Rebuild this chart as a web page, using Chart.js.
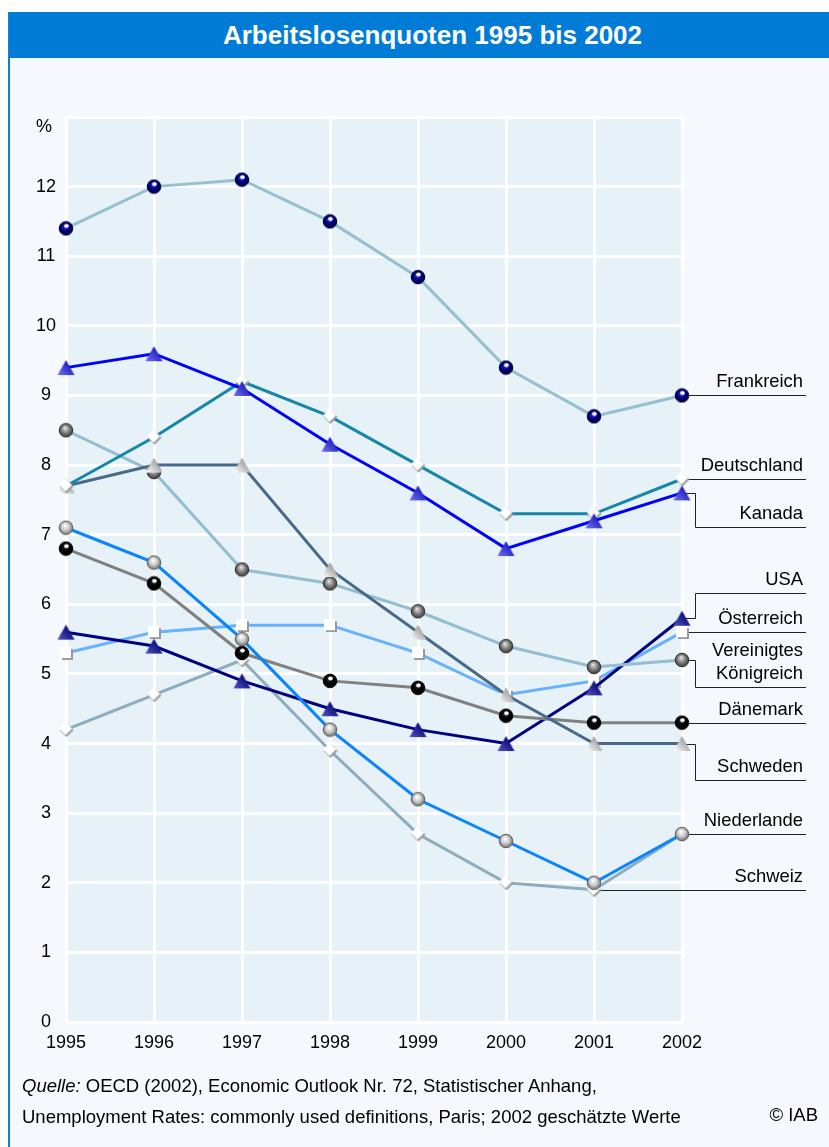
<!DOCTYPE html>
<html lang="de">
<head>
<meta charset="utf-8">
<title>Arbeitslosenquoten 1995 bis 2002</title>
<script src="https://cdn.jsdelivr.net/npm/chart.js@4.4.1/dist/chart.umd.min.js"></script>
<style>
    html, body { margin: 0; padding: 0; background: #fff; }
    body { width: 829px; height: 1147px; position: relative; overflow: hidden; font-family: "Liberation Sans", Arial, sans-serif; color: #000; }
    #panel { position: absolute; left: 8px; top: 12px; right: 0; bottom: 0; background: #F5F9FD; border-left: 2px solid #0A7FD6; }
    #title { position: absolute; left: 10px; top: 12px; width: 793px; padding-left: 26px; height: 46px; background: #007CD6; color: #fff; font-weight: bold; font-size: 26px; line-height: 46px; text-align: center; }
    #chart { position: absolute; left: 0; top: 0; }
    #source { position: absolute; left: 22px; top: 1070px; font-size: 18.5px; line-height: 31px; white-space: nowrap; }
    #copy { position: absolute; right: 11px; top: 1099px; font-size: 18.5px; line-height: 31px; }
</style>
</head>
<body>
<div id="panel"></div>
<div id="title">Arbeitslosenquoten 1995 bis 2002</div>
<canvas id="chart" width="829" height="1147"></canvas>
<div id="source"><i>Quelle:</i> OECD (2002), Economic Outlook Nr. 72, Statistischer Anhang,<br>Unemployment Rates: commonly used definitions, Paris; 2002 geschätzte Werte</div>
<div id="copy">© IAB</div>

<script>
// Daten (Arbeitslosenquoten in %)
const years = ['1995', '1996', '1997', '1998', '1999', '2000', '2001', '2002'];
const frankreich = [11.4, 12.0, 12.1, 11.5, 10.7, 9.4, 8.7, 9.0];
const kanada = [9.4, 9.6, 9.1, 8.3, 7.6, 6.8, 7.2, 7.6];
const deutschland = [7.7, 8.4, 9.2, 8.7, 8.0, 7.3, 7.3, 7.8];
const schweden = [7.7, 8.0, 8.0, 6.5, 5.6, 4.7, 4.0, 4.0];
const vereinigtesKoenigreich = [8.5, 7.9, 6.5, 6.3, 5.9, 5.4, 5.1, 5.2];
const niederlande = [7.1, 6.6, 5.5, 4.2, 3.2, 2.6, 2.0, 2.7];
const daenemark = [6.8, 6.3, 5.3, 4.9, 4.8, 4.4, 4.3, 4.3];
const usa = [5.6, 5.4, 4.9, 4.5, 4.2, 4.0, 4.8, 5.8];
const oesterreich = [5.3, 5.6, 5.7, 5.7, 5.3, 4.7, 4.9, 5.6];
const schweiz = [4.2, 4.7, 5.2, 3.9, 2.7, 2.0, 1.9, 2.7];
const yTickLabels = ['0', '1', '2', '3', '4', '5', '6', '7', '8', '9', '10', '11', '12', ''];
const yUnit = '%';

const FONT = '"Liberation Sans", Arial, sans-serif';

// TODO: Marker (kleine Canvas-Bilder)
function sphere(body, light, edge, spot) {
    const c = document.createElement('canvas');
    c.width = c.height = 16;
    const g = c.getContext('2d');
    const grad = g.createRadialGradient(7, 5.5, 0.5, 8, 8, 7.5);
    grad.addColorStop(0, light);
    grad.addColorStop(0.5, body);
    grad.addColorStop(1, edge);
    g.fillStyle = grad;
    g.beginPath();
    g.arc(8, 8, 6.8, 0, Math.PI * 2);
    g.fill();
    g.strokeStyle = edge;
    g.lineWidth = 1;
    g.stroke();
    if (spot) {
        g.fillStyle = '#fff';
        g.beginPath();
        g.ellipse(8.5, 5.6, 2.3, 2, 0, 0, Math.PI * 2);
        g.fill();
    }
    return c;
}

function triangle(light, dark) {
    const c = document.createElement('canvas');
    c.width = 19;
    c.height = 17;
    const g = c.getContext('2d');
    const grad = g.createLinearGradient(2, 16, 15, 3);
    grad.addColorStop(0, light);
    grad.addColorStop(1, dark);
    g.fillStyle = grad;
    g.beginPath();
    g.moveTo(9.5, 1);
    g.lineTo(18, 16);
    g.lineTo(1, 16);
    g.closePath();
    g.fill();
    return c;
}

function diamond() {
    const c = document.createElement('canvas');
    c.width = c.height = 17;
    const g = c.getContext('2d');
    g.fillStyle = '#9a9a9a';
    g.beginPath();
    g.moveTo(9, 2); g.lineTo(16, 9); g.lineTo(9, 16); g.lineTo(2, 9);
    g.closePath();
    g.fill();
    g.fillStyle = '#fff';
    g.beginPath();
    g.moveTo(8, 1); g.lineTo(14.5, 7.5); g.lineTo(8, 14); g.lineTo(1.5, 7.5);
    g.closePath();
    g.fill();
    return c;
}

function square() {
    const c = document.createElement('canvas');
    c.width = c.height = 14;
    const g = c.getContext('2d');
    g.fillStyle = '#9a9a9a';
    g.fillRect(3, 3, 11, 11);
    g.fillStyle = '#fff';
    g.fillRect(1, 1, 11, 11);
    return c;
}

function series(label, values, color, marker) {
    return {
        label: label,
        data: values,
        borderColor: color,
        backgroundColor: color,
        borderWidth: 3,
        pointStyle: marker,
        pointRadius: 6,
        tension: 0,
        clip: false
    };
}

const datasets = [
    series('Frankreich', frankreich, '#96C0CF', sphere('#000080', '#3a3ad0', '#000030', true)),
    series('Kanada', kanada, '#0000FF', triangle('#7070F0', '#1010B0')),
    series('Deutschland', deutschland, '#1687A8', diamond()),
    series('Schweden', schweden, '#486A8A', triangle('#FFFFFF', '#8C8C8C')),
    series('Vereinigtes Königreich', vereinigtesKoenigreich, '#94BDD1', sphere('#808080', '#e0e0e0', '#303030', false)),
    series('Niederlande', niederlande, '#0A84FF', sphere('#c8c8c8', '#ffffff', '#606060', false)),
    series('Dänemark', daenemark, '#808080', sphere('#000000', '#303030', '#000000', true)),
    series('USA', usa, '#000080', triangle('#5050C0', '#00006A')),
    series('Österreich', oesterreich, '#66B2FF', square()),
    series('Schweiz', schweiz, '#8DACBE', diamond())
];

// Beschriftung rechts: Reihe, Punkt, Höhe der Linie (in %-Werten, null = auf Punkthöhe)
const calloutLayout = [
    { text: ['Frankreich'], values: frankreich, at: 7, line: null },
    { text: ['Deutschland'], values: deutschland, at: 7, line: null },
    { text: ['Kanada'], values: kanada, at: 7, line: 7.11 },
    { text: ['USA'], values: usa, at: 7, line: 6.16 },
    { text: ['Österreich'], values: oesterreich, at: 7, line: null },
    { text: ['Vereinigtes', 'Königreich'], values: vereinigtesKoenigreich, at: 7, line: 4.81 },
    { text: ['Dänemark'], values: daenemark, at: 7, line: null },
    { text: ['Schweden'], values: schweden, at: 7, line: 3.48 },
    { text: ['Niederlande'], values: niederlande, at: 7, line: null },
    { text: ['Schweiz'], values: schweiz, at: 6, line: null }
];

const plotBackground = {
    id: 'plotBackground',
    beforeDraw(chart) {
        const { ctx, chartArea } = chart;
        ctx.save();
        ctx.fillStyle = '#E6F1F8';
        ctx.fillRect(chartArea.left, chartArea.top, chartArea.width, chartArea.height);
        ctx.restore();
    }
};

const callouts = {
    id: 'callouts',
    beforeDatasetsDraw(chart) {
        const { ctx, chartArea, scales } = chart;
        const elbowX = chartArea.right + 13;
        const endX = chartArea.right + 124;
        const textX = chartArea.right + 121;
        ctx.save();
        ctx.strokeStyle = '#222';
        ctx.lineWidth = 1;
        ctx.font = '18.4px ' + FONT;
        ctx.fillStyle = '#000';
        ctx.textAlign = 'right';
        ctx.textBaseline = 'alphabetic';
        calloutLayout.forEach(function (c) {
            const px = scales.x.getPixelForValue(c.at);
            const py = Math.round(scales.y.getPixelForValue(c.values[c.at])) + 0.5;
            const ly = c.line === null ? py : Math.round(scales.y.getPixelForValue(c.line)) + 0.5;
            ctx.beginPath();
            ctx.moveTo(px, py);
            if (c.line !== null) {
                ctx.lineTo(elbowX + 0.5, py);
                ctx.lineTo(elbowX + 0.5, ly);
            }
            ctx.lineTo(endX, ly);
            ctx.stroke();
            c.text.forEach(function (t, i) {
                ctx.fillText(t, textX, ly - 9 - (c.text.length - 1 - i) * 23);
            });
        });

        // Einheit über der y-Achse
        ctx.font = '18px ' + FONT;
        ctx.textAlign = 'center';
        ctx.textBaseline = 'middle';
        ctx.fillText(yUnit, chartArea.left - 22, scales.y.getPixelForValue(scales.y.max) + 10);
        ctx.restore();
    }
};

const ctx = document.getElementById('chart').getContext('2d');
const unemploymentChart = new Chart(ctx, {
    type: 'line',
    data: { labels: years, datasets: datasets },
    options: {
        responsive: false,
        animation: false,
        events: [],
        devicePixelRatio: 1,
        layout: { padding: { left: 0, top: 117, right: 147, bottom: 85 } },
        scales: {
            x: {
                offset: false,
                grid: { color: '#fff', lineWidth: 3, drawTicks: false },
                border: { display: false },
                ticks: { color: '#000', padding: 10, font: { family: FONT, size: 18 }, maxRotation: 0 },
                afterFit: function (scale) { scale.height = 40; }
            },
            y: {
                min: 0,
                max: 13,
                grid: { color: '#fff', lineWidth: 3, drawTicks: false },
                border: { display: false },
                ticks: {
                    stepSize: 1,
                    color: '#000',
                    padding: 10,
                    crossAlign: 'center',
                    font: { family: FONT, size: 18 },
                    callback: function (value) { return yTickLabels[value]; }
                },
                afterFit: function (scale) { scale.width = 66; }
            }
        },
        plugins: {
            legend: { display: false },
            tooltip: { enabled: false }
        }
    },
    plugins: [plotBackground, callouts]
});
</script>
</body>
</html>
